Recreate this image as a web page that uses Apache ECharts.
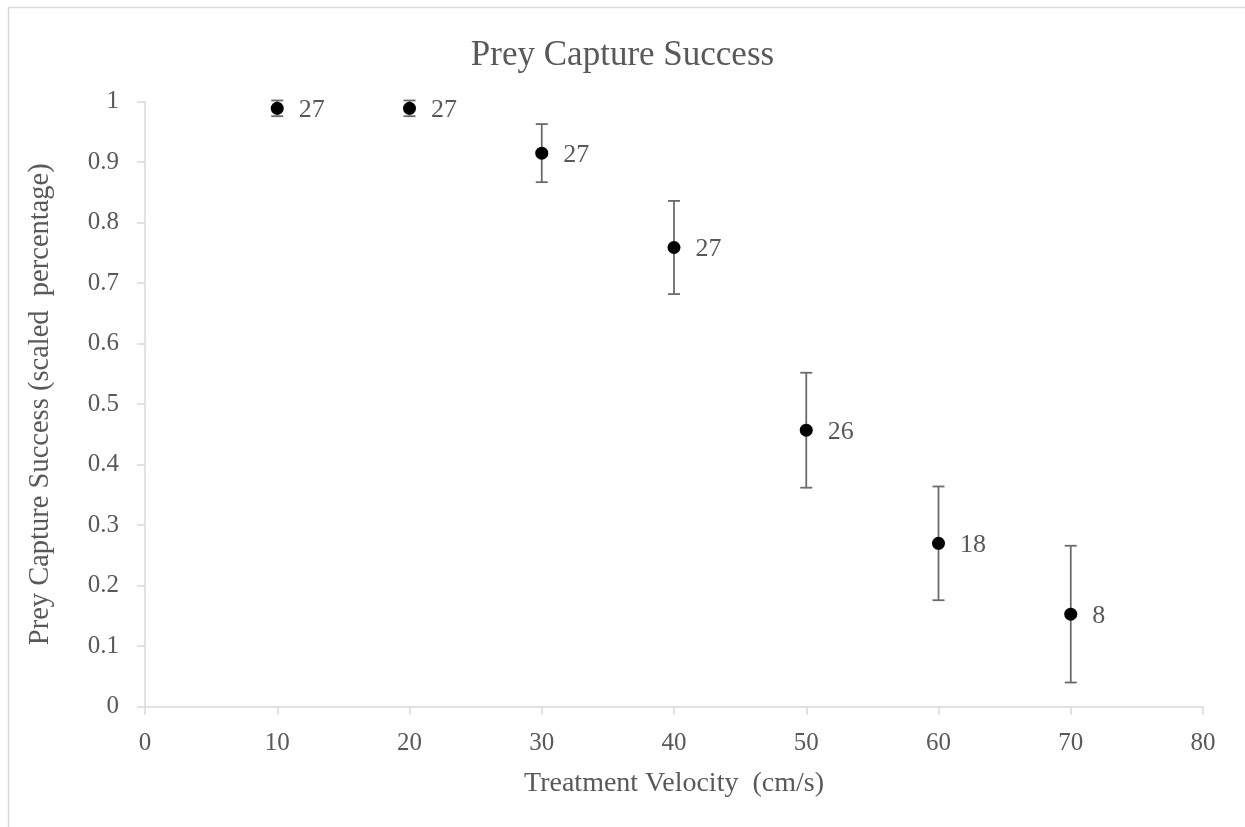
<!DOCTYPE html>
<html>
<head>
<meta charset="utf-8">
<style>html,body{margin:0;padding:0;background:#fff;}#c{width:1245px;height:827px;}</style>
<script src="https://cdn.jsdelivr.net/npm/echarts@6/dist/echarts.min.js"></script>
</head>
<body>
<div id="c"></div>
<script>
var velocities = [10, 20, 30, 40, 50, 60, 70];
var success = [0.989, 0.989, 0.915, 0.759, 0.457, 0.270, 0.153];
var errors = [0.013, 0.013, 0.048, 0.077, 0.095, 0.094, 0.113];
var sampleSizes = [27, 27, 27, 27, 26, 18, 8];
var xTicks = [0, 10, 20, 30, 40, 50, 60, 70, 80];
var yTicks = [0, 0.1, 0.2, 0.3, 0.4, 0.5, 0.6, 0.7, 0.8, 0.9, 1];

var FONT = '"Liberation Serif", "Times New Roman", serif';
var TXT = '#595959';
var AX = '#d9d9d9';

var pts = velocities.map(function (v, i) { return [v, success[i], sampleSizes[i]]; });
var bars = velocities.map(function (v, i) { return [v, success[i] - errors[i], success[i] + errors[i]]; });

var chart = echarts.init(document.getElementById('c'), null, {renderer: 'canvas'});
chart.setOption({
  animation: false,
  backgroundColor: '#fff',
  graphic: [{
    type: 'rect', z: -1,
    shape: {x: 8.5, y: 7.5, width: 1300, height: 900},
    style: {fill: 'none', stroke: AX, lineWidth: 1.5}
  }],
  title: {
    text: 'Prey Capture Success', left: 'center', top: 33,
    textStyle: {fontFamily: FONT, fontSize: 35, fontWeight: 'normal', color: TXT}
  },
  grid: {left: 145, right: 42, top: 101.7, bottom: 120.3, containLabel: false},
  xAxis: {
    type: 'value', min: xTicks[0], max: xTicks[xTicks.length - 1], interval: 10,
    name: 'Treatment Velocity  (cm/s)', nameLocation: 'middle', nameGap: 63,
    nameTextStyle: {fontFamily: FONT, fontSize: 28, color: TXT},
    axisLine: {show: true, lineStyle: {color: AX, width: 1.5}},
    axisTick: {show: true, length: 8, lineStyle: {color: AX, width: 1.5}},
    axisLabel: {fontFamily: FONT, fontSize: 25, color: TXT, margin: 24},
    splitLine: {show: false}
  },
  yAxis: {
    type: 'value', min: yTicks[0], max: yTicks[yTicks.length - 1], interval: 0.1,
    name: 'Prey Capture Success (scaled  percentage)', nameLocation: 'middle', nameGap: 90,
    nameTextStyle: {fontFamily: FONT, fontSize: 28.5, color: TXT},
    axisLine: {show: true, lineStyle: {color: AX, width: 1.5}},
    axisTick: {show: true, length: 8, lineStyle: {color: AX, width: 1.5}},
    axisLabel: {fontFamily: FONT, fontSize: 25, color: TXT, margin: 26,
      formatter: function (v) { return String(Math.round(v * 10) / 10); }},
    splitLine: {show: false}
  },
  series: [{
    type: 'custom',
    data: bars,
    renderItem: function (params, api) {
      var x = api.value(0);
      var lo = api.coord([x, api.value(1)]);
      var hi = api.coord([x, api.value(2)]);
      var cap = 6;
      var st = {stroke: '#6b6b6b', lineWidth: 1.8};
      return {type: 'group', children: [
        {type: 'line', shape: {x1: lo[0], y1: lo[1], x2: hi[0], y2: hi[1]}, style: st},
        {type: 'line', shape: {x1: lo[0] - cap, y1: lo[1], x2: lo[0] + cap, y2: lo[1]}, style: st},
        {type: 'line', shape: {x1: hi[0] - cap, y1: hi[1], x2: hi[0] + cap, y2: hi[1]}, style: st}
      ]};
    },
    z: 1
  }, {
    type: 'scatter',
    data: pts,
    symbol: 'circle', symbolSize: 13,
    itemStyle: {color: '#000', opacity: 1},
    label: {
      show: true, position: 'right', distance: 15,
      formatter: function (p) { return p.value[2]; },
      fontFamily: FONT, fontSize: 26, color: TXT, offset: [0, 2]
    },
    z: 2
  }]
});
</script>
</body>
</html>
